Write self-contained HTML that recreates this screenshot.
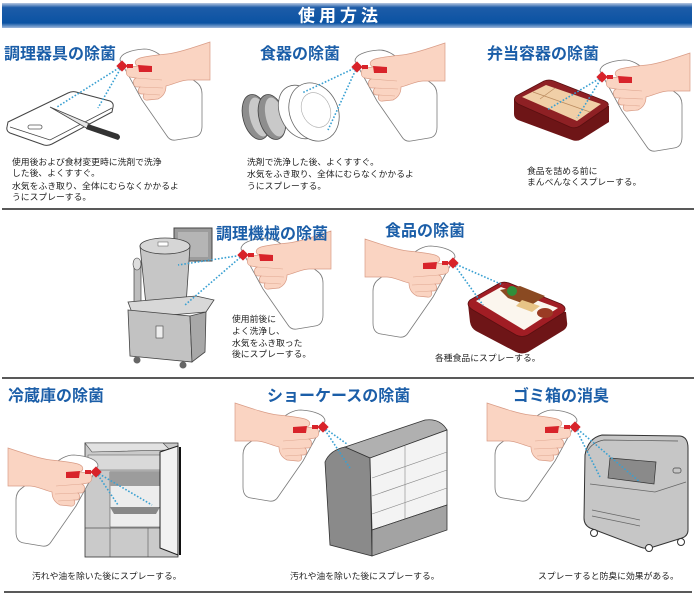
<!DOCTYPE html>
<html><head><meta charset="utf-8"><style>
html,body{margin:0;padding:0;background:#fff;}
svg{display:block;}
.h{font-family:"Liberation Sans","Noto Sans CJK JP",sans-serif;font-weight:bold;font-size:16px;fill:#1b5ea8;}
.t{font-family:"Liberation Sans","Noto Sans CJK JP",sans-serif;font-size:8.8px;fill:#222;}
.sp{stroke:#39a0d2;stroke-width:1.6;stroke-dasharray:1.6 1.8;fill:none;}
</style></head><body>
<svg width="697" height="596" viewBox="0 0 697 596" xmlns="http://www.w3.org/2000/svg">
<defs>
<linearGradient id="hg" x1="0" y1="0" x2="0" y2="1">
<stop offset="0" stop-color="#b8c8e2"/><stop offset="0.18" stop-color="#1d5ca8"/>
<stop offset="0.8" stop-color="#0b53a3"/><stop offset="1" stop-color="#9fb8dc"/>
</linearGradient>
<g id="hand">
<path d="M-2,-6 C-2,-12 8,-16 22,-17 C30,-17 36,-13 42,-8 L74,16 Q80,20 80,28 L80,60 Q80,70 72,71 L54,74 Q48,75 45,70 L20,34 Z" fill="#fff" stroke="#7a7a7a" stroke-width="0.8"/>
<path d="M88,-24 C70,-18 55,-13 45,-12 C35,-11 25,-10 18,-8 C12,-6 12,-2 16,0 L8,1 C3,2 3,10 8,11 L14,12 C10,14 11,21 15,21 L18,21 C15,24 16,28 20,28 L22,28 C20,31 22,35 26,34 L36,33 C42,30 44,25 44,20 C52,18 60,14 66,14 L88,14 Z" fill="#fad4c2" stroke="#d99c86" stroke-width="0.7"/>
<path d="M14,12 L40,14 M18,21 L41,22 M22,28 L38,29" stroke="#e0a892" stroke-width="0.6" fill="none"/>
<path d="M16,-1 L30,0 L30,6 L17,6 Z" fill="#d8232a"/>
<rect x="-4" y="-4" width="8" height="8" fill="#d8232a" transform="rotate(45)"/>
<rect x="5" y="-2" width="6" height="4" fill="#d8232a"/>
</g>
</defs>

<!-- header -->
<rect x="2" y="3" width="690" height="25" fill="url(#hg)"/>
<text x="340" y="21.5" text-anchor="middle" font-family="Liberation Sans,Noto Sans CJK JP,sans-serif" font-weight="bold" font-size="17" fill="#fff" letter-spacing="4">使用方法</text>

<!-- separators -->
<line x1="2" y1="209" x2="694" y2="209" stroke="#222" stroke-width="1.5"/>
<line x1="2" y1="378" x2="694" y2="378" stroke="#222" stroke-width="1.5"/>
<line x1="4" y1="592" x2="692" y2="592" stroke="#222" stroke-width="1.5"/>

<!-- ROW 1 -->
<path d="M8,122 L68,93 Q72,91 76,92 L110,101 Q114,103 113,107 L112,112 L52,144 Q48,146 44,145 L10,133 Q6,131 7,127 Z" fill="#fff" stroke="#444" stroke-width="1"/>
<path d="M10,127 L50,140 L112,108" fill="none" stroke="#444" stroke-width="0.8"/>
<rect x="28" y="125" width="14" height="4" rx="2" fill="none" stroke="#555" stroke-width="0.8"/>
<path d="M50,107 L90,124 L88,129 Z" fill="#e6e6e6" stroke="#444" stroke-width="0.8"/>
<path d="M88,124 L118,134 Q122,137 118,140 L86,129 Z" fill="#333"/>
<line class="sp" x1="122" y1="66" x2="57" y2="107"/>
<line class="sp" x1="122" y1="66" x2="98" y2="108"/>
<use href="#hand" transform="translate(122,66)"/>

<!-- plates -->
<ellipse cx="256" cy="117" rx="13" ry="23" fill="#8e8e8e" stroke="#444" stroke-width="0.8" transform="rotate(-15 256 117)"/>
<ellipse cx="259" cy="117" rx="9" ry="20" fill="#c9c9c9" transform="rotate(-15 259 117)"/>
<ellipse cx="272" cy="117" rx="13" ry="23" fill="#8e8e8e" stroke="#444" stroke-width="0.8" transform="rotate(-15 272 117)"/>
<ellipse cx="275" cy="117" rx="9" ry="20" fill="#c9c9c9" transform="rotate(-15 275 117)"/>
<ellipse cx="300" cy="112" rx="20" ry="28" fill="#fff" stroke="#666" stroke-width="0.8" transform="rotate(-25 300 112)"/>
<ellipse cx="314" cy="112" rx="24" ry="30" fill="#fff" stroke="#666" stroke-width="0.8" transform="rotate(-25 314 112)"/>
<ellipse cx="316" cy="110" rx="14" ry="18" fill="none" stroke="#aaa" stroke-width="0.6" transform="rotate(-25 316 110)"/>
<line class="sp" x1="357" y1="67" x2="302" y2="93"/>
<line class="sp" x1="357" y1="67" x2="328" y2="130"/>
<use href="#hand" transform="translate(357,67)"/>

<!-- bento top right -->
<path d="M514,99 L514,114 Q514,118 518,120 L572,140 Q577,142 582,139 L609,122 L609,106 Z" fill="#6e1517"/>
<path d="M516,96 L544,81 Q549,79 554,81 L605,101 Q611,104 606,108 L580,126 Q575,129 570,127 L518,104 Q512,100 516,96 Z" fill="#8e2024" stroke="#5a0f10" stroke-width="0.8"/>
<path d="M522,97 L546,85 L601,104 L577,121 Z" fill="#f0cfa7"/>
<path d="M533,92 L590,112 M555,88 L540,99" stroke="#b98a5e" stroke-width="0.7" fill="none"/>
<line class="sp" x1="602" y1="77" x2="547" y2="110"/>
<line class="sp" x1="602" y1="77" x2="577" y2="118"/>
<use href="#hand" transform="translate(602,77)"/>

<text class="h" x="4" y="59">調理器具の除菌</text>
<text class="h" x="260" y="59">食器の除菌</text>
<text class="h" x="487" y="59">弁当容器の除菌</text>

<text class="t" x="12" y="165">使用後および食材変更時に洗剤で洗浄</text>
<text class="t" x="12" y="176">した後、よくすすぐ。</text>
<text class="t" x="12" y="189">水気をふき取り、全体にむらなくかかるよ</text>
<text class="t" x="12" y="200">うにスプレーする。</text>
<text class="t" x="247" y="165">洗剤で洗浄した後、よくすすぐ。</text>
<text class="t" x="247" y="177">水気をふき取り、全体にむらなくかかるよ</text>
<text class="t" x="247" y="189">うにスプレーする。</text>
<text class="t" x="527" y="174">食品を詰める前に</text>
<text class="t" x="527" y="185">まんべんなくスプレーする。</text>

<!-- ROW 2 -->
<rect x="174" y="228" width="38" height="33" fill="#9c9c9c" stroke="#444" stroke-width="1"/>
<rect x="178" y="232" width="30" height="25" fill="#b5b5b5"/>
<path d="M140,246 L190,246 L186,305 L146,305 Z" fill="#c6c6c6" stroke="#444" stroke-width="0.8"/>
<ellipse cx="165" cy="246" rx="25" ry="8" fill="#d6d6d6" stroke="#444" stroke-width="0.8"/>
<rect x="158" y="242" width="10" height="4" fill="#fff" stroke="#555" stroke-width="0.5"/>
<rect x="134" y="262" width="7" height="40" fill="#bdbdbd" stroke="#444" stroke-width="0.7"/>
<ellipse cx="137" cy="264" rx="4" ry="6" fill="#ddd" stroke="#444" stroke-width="0.6"/>
<path d="M128,302 L196,296 L214,300 L206,312 L134,318 Z" fill="#d8d8d8" stroke="#444" stroke-width="0.8"/>
<path d="M128,310 L190,316 L192,362 L130,356 Z" fill="#c2c2c2" stroke="#444" stroke-width="0.8"/>
<path d="M190,316 L206,312 L205,352 L192,362 Z" fill="#a8a8a8" stroke="#444" stroke-width="0.8"/>
<rect x="156" y="326" width="7" height="12" fill="#eee" stroke="#444" stroke-width="0.6"/>
<circle cx="137" cy="360" r="3.5" fill="#666"/>
<circle cx="183" cy="365" r="3.5" fill="#666"/>
<line class="sp" x1="243" y1="255" x2="178" y2="265"/>
<line class="sp" x1="243" y1="255" x2="185" y2="305"/>
<use href="#hand" transform="translate(243,255)"/>

<path d="M468,304 L470,322 Q471,328 476,331 L516,352 Q522,355 528,352 L564,330 Q568,327 567,322 L566,312 Z" fill="#6e1517"/>
<path d="M470,300 L498,284 Q503,281 509,283 L561,304 Q568,308 563,313 L528,335 Q522,338 516,335 L473,310 Q465,305 470,300 Z" fill="#a11d24" stroke="#5a0f10" stroke-width="0.8"/>
<path d="M476,301 L501,287 L558,308 L524,330 Z" fill="#fbf6ee"/>
<path d="M500,290 L520,286 L545,296 L530,306 L508,298 Z" fill="#8a4a22"/>
<circle cx="512" cy="291" r="5" fill="#2f8f3a"/>
<ellipse cx="545" cy="313" rx="8" ry="5" fill="#9a3b24"/>
<path d="M522,300 L540,306 L532,312 L516,306 Z" fill="#e7c486"/>
<line class="sp" x1="453" y1="263" x2="503" y2="285"/>
<line class="sp" x1="453" y1="263" x2="483" y2="305"/>
<use href="#hand" transform="translate(453,263) scale(-1,1)"/>

<text class="h" x="216" y="239">調理機械の除菌</text>
<text class="h" x="385" y="236">食品の除菌</text>
<text class="t" x="232" y="322">使用前後に</text>
<text class="t" x="232" y="334">よく洗浄し、</text>
<text class="t" x="232" y="346">水気をふき取った</text>
<text class="t" x="232" y="357">後にスプレーする。</text>
<text class="t" x="435" y="361">各種食品にスプレーする。</text>

<!-- ROW 3 -->
<rect x="85" y="443" width="93" height="114" fill="#cacaca" stroke="#333" stroke-width="0.8"/>
<path d="M85,443 L163,443 L170,450 L92,452 Z" fill="#e2e2e2" stroke="#444" stroke-width="0.6"/>
<rect x="88" y="455" width="72" height="15" fill="#d9d9d9" stroke="#555" stroke-width="0.5"/>
<rect x="110" y="472" width="50" height="55" fill="#ededed" stroke="#555" stroke-width="0.6"/>
<rect x="110" y="472" width="50" height="14" fill="#9c9c9c"/>
<path d="M110,507 L160,507 L156,514 L114,514 Z" fill="#888"/>
<line x1="85" y1="528" x2="178" y2="528" stroke="#555" stroke-width="0.7"/>
<line x1="110" y1="528" x2="110" y2="557" stroke="#555" stroke-width="0.6"/>
<line x1="148" y1="528" x2="148" y2="557" stroke="#555" stroke-width="0.6"/>
<path d="M160,452 L178,446 L178,555 L160,548 Z" fill="#f2f2f2" stroke="#222" stroke-width="1"/>
<line x1="180" y1="447" x2="180" y2="555" stroke="#111" stroke-width="2"/>
<line class="sp" x1="96" y1="472" x2="152" y2="505"/>
<line class="sp" x1="96" y1="472" x2="118" y2="505"/>
<use href="#hand" transform="translate(96,472) scale(-1,1)"/>

<path d="M345,447 L425,420 Q440,418 447,430 L370,458 Z" fill="#b0b0b0" stroke="#333" stroke-width="0.8"/>
<path d="M325,462 Q330,450 345,447 L370,458 L372,556 L330,545 Z" fill="#8a8a8a" stroke="#333" stroke-width="0.8"/>
<path d="M370,458 L447,430 L447,505 L372,530 Z" fill="#f3f3f3" stroke="#333" stroke-width="0.8"/>
<path d="M372,478 L447,452 M372,496 L447,470 M372,514 L447,488 M405,446 L405,520" stroke="#888" stroke-width="0.6" fill="none"/>
<path d="M372,530 L447,505 L447,530 L372,556 Z" fill="#a3a3a3" stroke="#333" stroke-width="0.8"/>
<line class="sp" x1="323" y1="427" x2="347" y2="444"/>
<line class="sp" x1="323" y1="427" x2="350" y2="468"/>
<use href="#hand" transform="translate(323,427) scale(-1,1)"/>

<path d="M585,455 Q588,438 602,435 L680,436 Q688,437 688,448 L688,530 Q688,536 682,538 L650,548 Q645,549 640,547 L590,528 Q584,525 584,518 Z" fill="#c6c6c6" stroke="#333" stroke-width="1"/>
<path d="M587,452 Q592,442 604,440 L678,441" fill="none" stroke="#555" stroke-width="0.7"/>
<path d="M610,458 L656,462 L654,484 L608,478 Z" fill="#8a8a8a" stroke="#333" stroke-width="0.7"/>
<path d="M590,484 L655,492 L686,482 M592,510 L640,520 M592,516 L640,526" stroke="#666" stroke-width="0.7" fill="none"/>
<rect x="673" y="468" width="8" height="5" rx="2" fill="none" stroke="#444" stroke-width="0.7"/>
<circle cx="594" cy="533" r="3.5" fill="#fff" stroke="#333"/>
<circle cx="649" cy="548" r="3.5" fill="#fff" stroke="#333"/>
<circle cx="681" cy="542" r="3.5" fill="#fff" stroke="#333"/>
<line class="sp" x1="575" y1="427" x2="640" y2="482"/>
<line class="sp" x1="575" y1="427" x2="600" y2="477"/>
<use href="#hand" transform="translate(575,427) scale(-1,1)"/>

<text class="h" x="8" y="401">冷蔵庫の除菌</text>
<text class="h" x="267" y="401">ショーケースの除菌</text>
<text class="h" x="513" y="401">ゴミ箱の消臭</text>
<text class="t" x="32" y="579">汚れや油を除いた後にスプレーする。</text>
<text class="t" x="290" y="579">汚れや油を除いた後にスプレーする。</text>
<text class="t" x="538" y="579">スプレーすると防臭に効果がある。</text>
</svg>
</body></html>
